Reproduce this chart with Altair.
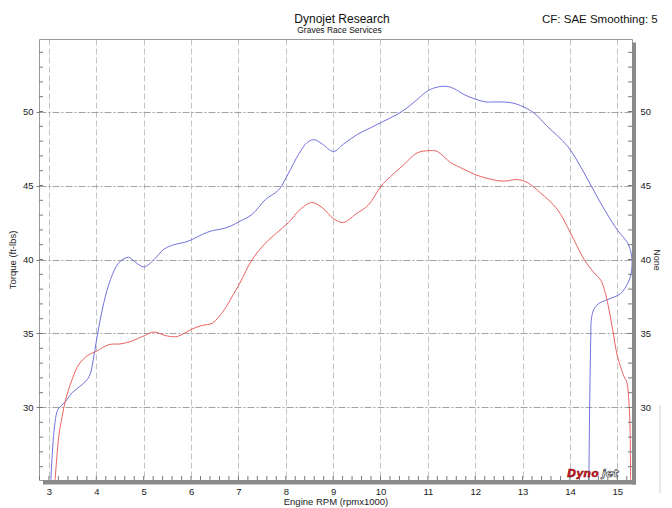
import altair as alt
import pandas as pd

# ---- data ----
blue_rpm = [3.04, 3.11, 3.18, 3.25, 3.35, 3.49, 3.70, 3.85, 3.95, 4.02, 4.16, 4.30, 4.48, 4.68,
            4.83, 5.01, 5.22, 5.43, 5.64, 5.85, 6.02, 6.24, 6.45, 6.63, 6.83, 7.04, 7.29, 7.57,
            7.85, 8.06, 8.27, 8.45, 8.60, 8.77, 9.01, 9.22, 9.51, 9.79, 10.07, 10.35, 10.56,
            10.77, 11.00, 11.20, 11.40, 11.55, 11.76, 11.99, 12.22, 12.47, 12.75, 12.96, 13.24,
            13.52, 13.95, 14.30, 14.65, 15.00, 15.20, 15.28, 15.31, 15.29, 15.22, 15.07, 14.80,
            14.60, 14.50, 14.45, 14.44, 14.42, 14.41, 14.40]
blue_tq = [25.1, 28.5, 29.8, 30.1, 30.4, 31.0, 31.55, 32.1, 33.5, 34.85, 37.1, 38.65, 39.8, 40.15,
           39.8, 39.5, 40.0, 40.7, 41.0, 41.15, 41.35, 41.7, 41.95, 42.05, 42.25, 42.6, 43.05, 44.05,
           44.7, 45.85, 47.1, 47.9, 48.1, 47.8, 47.3, 47.8, 48.45, 48.9, 49.35, 49.8, 50.25,
           50.8, 51.4, 51.65, 51.7, 51.55, 51.15, 50.85, 50.65, 50.65, 50.6, 50.4, 49.9,
           49.0, 47.65, 45.85, 43.8, 42.0, 41.2, 40.6, 40.0, 39.0, 38.4, 37.7, 37.3,
           37.0, 36.6, 35.9, 34.8, 31.0, 28.5, 25.1]

red_rpm = [3.13, 3.21, 3.28, 3.35, 3.49, 3.63, 3.81, 4.00, 4.27, 4.52, 4.76, 5.01, 5.22, 5.47,
           5.71, 6.02, 6.24, 6.45, 6.70, 6.85, 7.03, 7.29, 7.57, 7.81, 8.06, 8.31, 8.55, 8.77,
           9.01, 9.22, 9.47, 9.75, 10.01, 10.21, 10.49, 10.77, 11.00, 11.20, 11.48, 11.76,
           11.99, 12.29, 12.60, 12.89, 13.10, 13.38, 13.73, 14.01, 14.30, 14.51, 14.65, 14.75,
           14.90, 15.00, 15.14, 15.20, 15.25, 15.27, 15.28]
red_tq = [25.1, 28.1, 29.4, 30.5, 31.9, 32.9, 33.5, 33.8, 34.25, 34.3, 34.5, 34.85, 35.1, 34.85,
          34.8, 35.3, 35.55, 35.7, 36.6, 37.4, 38.4, 40.0, 41.1, 41.8, 42.5, 43.4, 43.85, 43.5,
          42.75, 42.5, 43.05, 43.7, 44.95, 45.6, 46.4, 47.2, 47.35, 47.3, 46.55, 46.1,
          45.75, 45.45, 45.3, 45.4, 45.2, 44.5, 43.4, 41.8, 40.0, 39.1, 38.6, 37.7,
          35.3, 33.5, 32.1, 31.7, 30.1, 28.5, 25.1]

x_major = [3, 4, 5, 6, 7, 8, 9, 10, 11, 12, 13, 14, 15]
y_major = [30, 35, 40, 45, 50]
x_minor = [round(2.8 + 0.2 * i, 1) for i in range(63)]
y_minor = list(range(26, 55))

blue = pd.DataFrame({"rpm": blue_rpm, "tq": blue_tq, "i": range(len(blue_rpm))})
red = pd.DataFrame({"rpm": red_rpm, "tq": red_tq, "i": range(len(red_rpm))})
xminor_df = pd.DataFrame({"v": x_minor})
yminor_df = pd.DataFrame({"v": y_minor})

W, H = 593, 441
FONT = "Liberation Sans"
xs = alt.Scale(domain=[2.79, 15.31], nice=False, zero=False)
ys = alt.Scale(domain=[25.1, 54.9], nice=False, zero=False)

x_axis = alt.Axis(values=x_major, format="d", grid=True, gridColor="#b4b4b4", gridDash=[6, 3],
                  gridWidth=0.8, domain=False, ticks=False, labelPadding=6, labelFontSize=9.5,
                  labelColor="#222", title="Engine RPM (rpmx1000)", titleFontSize=9.5,
                  titleFontWeight="normal", titleColor="#222", titlePadding=1)
y_left = alt.Axis(values=y_major, grid=True, gridColor="#8c8c8c", gridDash=[7, 2, 2, 2],
                  gridWidth=0.8, domain=False, tickSize=3, tickColor="#777", labelPadding=3,
                  labelFontSize=9.5, labelColor="#222", title="Torque (ft-lbs)",
                  titleFontSize=9.5, titleFontWeight="normal", titleColor="#222", titlePadding=5)
y_right = alt.Axis(values=y_major, orient="right", grid=False, domain=False, tickSize=3,
                   tickColor="#777", labelPadding=5, labelFontSize=9.5, labelColor="#222",
                   title="None", titleAngle=90, titleFontSize=9, titleFontWeight="normal",
                   titleColor="#222", titlePadding=1)

one = alt.Data(values=[{}])

blue_line = alt.Chart(blue).mark_line(strokeWidth=1, interpolate="catmull-rom", clip=True).encode(
    x=alt.X("rpm:Q", scale=xs, axis=x_axis),
    y=alt.Y("tq:Q", scale=ys, axis=y_left),
    order="i:Q",
    color=alt.value("#7272dc"),
)
red_line = alt.Chart(red).mark_line(strokeWidth=1, interpolate="catmull-rom", clip=True).encode(
    x=alt.X("rpm:Q", scale=xs, axis=x_axis),
    y=alt.Y("tq:Q", scale=ys, axis=y_right),
    order="i:Q",
    color=alt.value("#ea6262"),
)

xmin_ticks = alt.Chart(xminor_df).mark_rule(color="#777", strokeWidth=1).encode(
    x=alt.X("v:Q", scale=xs, axis=x_axis), y=alt.value(H - 4), y2=alt.value(H))
ymin_ticks_l = alt.Chart(yminor_df).mark_rule(color="#777", strokeWidth=1).encode(
    y=alt.Y("v:Q", scale=ys, axis=None), x=alt.value(0), x2=alt.value(4))
ymin_ticks_r = alt.Chart(yminor_df).mark_rule(color="#777", strokeWidth=1).encode(
    y=alt.Y("v:Q", scale=ys, axis=None), x=alt.value(W - 4), x2=alt.value(W))

shadow_b = alt.Chart(one).mark_rect(color="#8a8a8a").encode(
    x=alt.value(4), x2=alt.value(W + 4), y=alt.value(H), y2=alt.value(H + 4.5))
shadow_r = alt.Chart(one).mark_rect(color="#8a8a8a").encode(
    x=alt.value(W), x2=alt.value(W + 4), y=alt.value(3.5), y2=alt.value(H + 4.5))
side_line = alt.Chart(one).mark_rule(color="#d0d0d0").encode(
    x=alt.value(621), y=alt.value(366), y2=alt.value(454))


def label(txt, x, y, size, align="center"):
    return alt.Chart(one).mark_text(align=align, baseline="alphabetic", fontSize=size,
                                    font=FONT, color="#111").encode(
        x=alt.value(x), y=alt.value(y), text=alt.value(txt))


title1 = label("Dynojet Research", 303, -16.5, 12)
title2 = label("Graves Race Services", 300.5, -6.3, 8.5)
cf = label("CF: SAE Smoothing: 5", 503, -16.5, 11.5, align="left")
logo1 = alt.Chart(one).mark_text(
    align="left", baseline="alphabetic", fontSize=11, font="DejaVu Sans", fontWeight="bold",
    fontStyle="italic", color="#c8141e", stroke="#5a0000", strokeWidth=0.3).encode(
    x=alt.value(528), y=alt.value(438), text=alt.value("Dyno"))
logo2 = alt.Chart(one).mark_text(
    align="left", baseline="alphabetic", fontSize=11, font="DejaVu Sans", fontWeight="bold",
    fontStyle="italic", color="#f4f4f4", stroke="#111", strokeWidth=0.55).encode(
    x=alt.value(563), y=alt.value(438), text=alt.value("jet"))

chart = alt.layer(
    shadow_b, shadow_r, side_line,
    blue_line, red_line,
    xmin_ticks, ymin_ticks_l, ymin_ticks_r,
    title1, title2, cf, logo1, logo2,
).resolve_axis(y="independent").properties(
    width=W, height=H,
    autosize=alt.AutoSizeParams(type="none"),
    padding={"left": 31, "top": 31, "right": 32, "bottom": 28},
).configure_view(stroke="#9a9a9a", strokeWidth=1).configure_axis(
    labelFont=FONT, titleFont=FONT)

chart.save("out.html", embed_options={"renderer": "svg", "actions": False})
